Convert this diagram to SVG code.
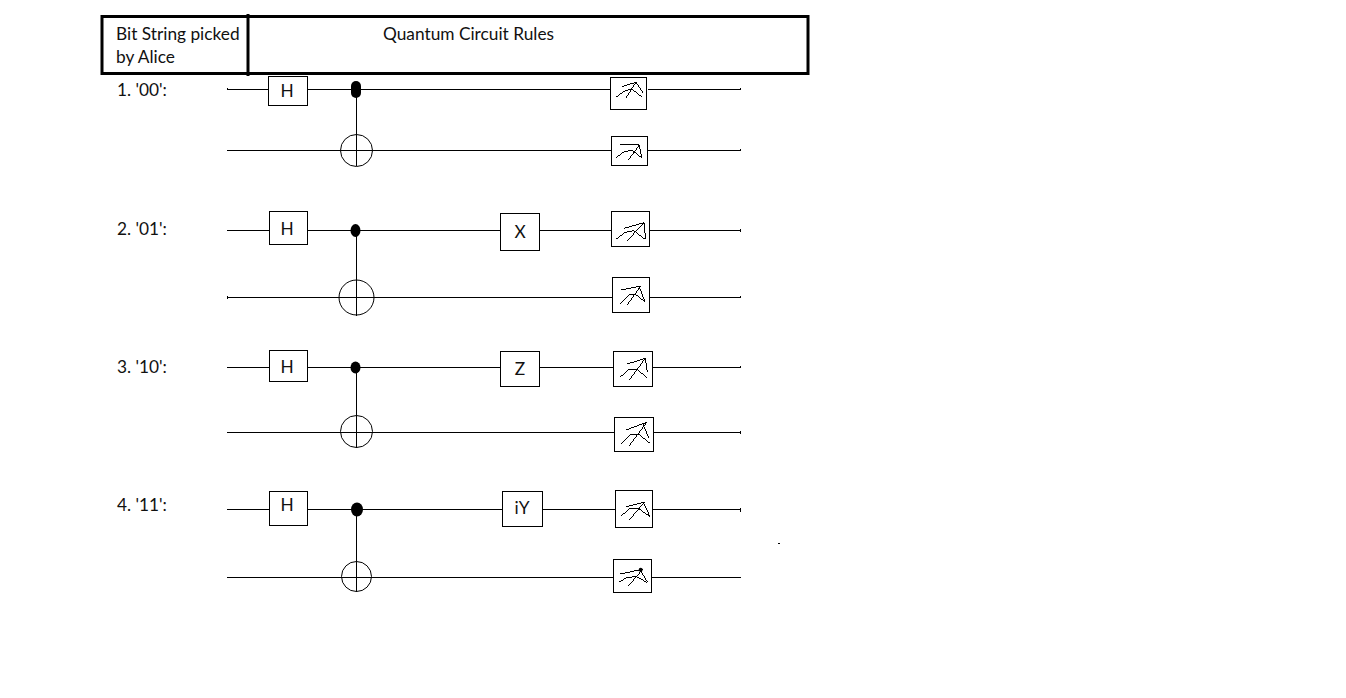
<svg xmlns="http://www.w3.org/2000/svg" width="1346" height="698" viewBox="0 0 1346 698">
<style>
text{font-family:"Lato","Liberation Sans",sans-serif;font-size:17.300px;fill:#111}
.g{text-anchor:middle}
.w{fill:none;stroke:#000;stroke-width:1}
.b{fill:#fff;stroke:#000;stroke-width:1}
.t{fill:none;stroke:#000;stroke-width:3}
.n{fill:none;stroke:#000;stroke-width:3;shape-rendering:crispEdges}
</style>
<rect width="1346" height="698" fill="#fff"/>
<g id="header">
<rect class="t" x="102" y="16.500" width="706" height="57"/>
<path class="t" d="M248 14V76"/>
<text x="116" y="40">Bit String picked</text>
<text x="116" y="63">by Alice</text>
<text x="383" y="40">Quantum Circuit Rules</text>
</g>
<g id="labels">
<text x="117" y="96">1. '00':</text>
<text x="117" y="235">2. '01':</text>
<text x="117" y="373">3. '10':</text>
<text x="117" y="511">4. '11':</text>
</g>
<g id="connectors">
<path class="w" d="M227 89.500H268M308 89.500H610M648 89.500H741M227 150.500H611M648 150.500H741M356.500 89V166"/>
<path class="w" d="M227 230.500H269M308 230.500H500M540 230.500H611M650 230.500H741M227 297.500H612M650 297.500H741M356.500 230V316"/>
<path class="w" d="M227 367.500H269M308 367.500H500M540 367.500H613M653 367.500H741M227 432.500H614M654 432.500H741M356.500 367V448"/>
<path class="w" d="M227 509.500H269M308 509.500H502M543 509.500H615M653 509.500H741M227 577.500H613M652 577.500H741M356.500 509V592"/>
<path class="w" d="M740.500 88V90M740.500 149V151M740.500 229V232M740.500 296V298M740.500 366V368M740.500 431V434M740.500 508V512M227.500 88V90M227.500 296V299"/>
</g>
<g id="c1">
<g id="c1-h"><rect class="b" x="268.500" y="76.500" width="39" height="29"/><text class="g" x="287" y="97">H</text></g>
<rect x="351" y="81" width="10" height="17" rx="5" fill="#000"/>
<circle class="w" cx="356.500" cy="150.500" r="16"/>
<g id="c1-m1"><rect class="b" x="610.500" y="77.500" width="36" height="32"/><g transform="translate(590 65) scale(.3333)"><path class="n" d="M95 65L138 52L108 98M138 52L160 85M78 97L100 80L125 72L155 95"/></g></g>
<g id="c1-m2"><rect class="b" x="611.500" y="136.500" width="36" height="29"/><g transform="translate(590 65) scale(.3333)"><path class="n" d="M90 240H148L155 278M148 240L115 285M78 278L100 262L125 255L155 278"/></g></g>
</g>
<g id="c2">
<g id="c2-h"><rect class="b" x="269.500" y="211.500" width="38" height="33"/><text class="g" x="287" y="235">H</text></g>
<ellipse cx="355.500" cy="230.500" rx="5" ry="6.500" fill="#000"/>
<circle class="w" cx="356.500" cy="297.500" r="17.500"/>
<g id="c2-x"><rect class="b" x="500.500" y="213.500" width="39" height="37"/><text class="g" x="520" y="238">X</text></g>
<g id="c2-m1"><rect class="b" x="611.500" y="211.500" width="38" height="35"/><g transform="translate(590 200) scale(.3333)"><path class="n" d="M103 85L162 68L112 122M162 68L167 118M78 118L105 97L132 92L165 118"/></g></g>
<g id="c2-m2"><rect class="b" x="612.500" y="277.500" width="37" height="35"/><g transform="translate(590 200) scale(.3333)"><path class="n" d="M93 270L152 258L112 314M147 258L165 306M90 312L118 284L135 282L165 306"/></g></g>
</g>
<g id="c3">
<g id="c3-h"><rect class="b" x="269.500" y="350.500" width="38" height="31"/><text class="g" x="287" y="373">H</text></g>
<ellipse cx="355.500" cy="367.500" rx="5" ry="6" fill="#000"/>
<circle class="w" cx="356.500" cy="431.500" r="16"/>
<g id="c3-z"><rect class="b" x="500.500" y="351.500" width="39" height="35"/><text class="g" x="520" y="375">Z</text></g>
<g id="c3-m1"><rect class="b" x="613.500" y="351.500" width="39" height="35"/><g transform="translate(590 340) scale(.3333)"><path class="n" d="M112 72L166 55L118 120M166 55L172 95M90 112L115 90L140 87L170 112"/></g></g>
<g id="c3-m2"><rect class="b" x="614.500" y="417.500" width="39" height="34"/><g transform="translate(590 340) scale(.3333)"><path class="n" d="M108 270L170 247L118 317M158 250L176 294M94 310L120 285L145 282L180 310"/></g></g>
</g>
<g id="c4">
<g id="c4-h"><rect class="b" x="269.500" y="491.500" width="38" height="34"/><text class="g" x="287" y="511">H</text></g>
<ellipse cx="357" cy="509.500" rx="6" ry="7" fill="#000"/>
<circle class="w" cx="356.500" cy="576.500" r="15"/>
<g id="c4-y"><rect class="b" x="502.500" y="491.500" width="40" height="35"/><text class="g" x="522" y="514">iY</text></g>
<g id="c4-m1"><rect class="b" x="615.500" y="490.500" width="37" height="37"/><g transform="translate(590 480) scale(.3333)"><path class="n" d="M108 80L163 67L118 120M160 67L180 110M93 108L118 87L145 85L180 110"/></g></g>
<g id="c4-m2"><rect class="b" x="613.500" y="559.500" width="38" height="33"/><g transform="translate(590 480) scale(.3333)"><path class="n" d="M90 282L158 268L115 318M150 268L172 306M87 306L112 292L140 290L172 308"/><circle cx="152" cy="269" r="6" fill="#000"/></g></g>
</g>
<rect id="speck" x="778" y="543" width="2" height="1" fill="#000"/>
</svg>
